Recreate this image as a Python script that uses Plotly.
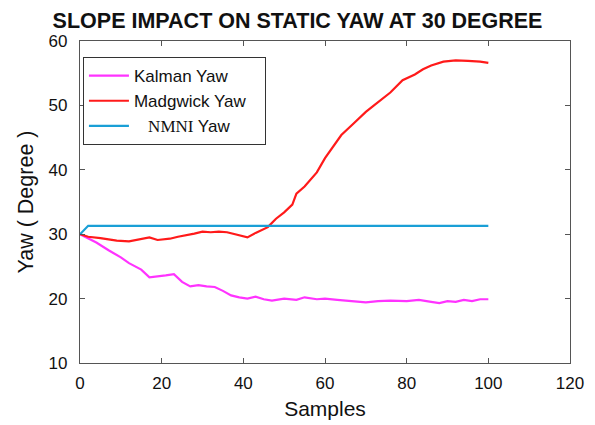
import plotly.graph_objects as go

kalman_x = [0, 2, 4, 7, 10, 12, 15, 17, 19, 21, 23, 25, 27, 29, 31, 33, 35, 37, 39, 41, 43, 45, 47, 50, 53, 55, 58, 60, 63, 66, 70, 73, 76, 80, 83, 86, 88, 90, 92, 94, 96, 98, 100]
kalman_y = [30.0, 29.3, 28.7, 27.5, 26.4, 25.5, 24.5, 23.3, 23.4, 23.6, 23.8, 22.6, 21.9, 22.1, 21.9, 21.8, 21.2, 20.5, 20.2, 20.0, 20.3, 19.9, 19.7, 20.0, 19.8, 20.2, 19.9, 20.0, 19.8, 19.6, 19.4, 19.6, 19.7, 19.6, 19.8, 19.5, 19.3, 19.6, 19.5, 19.8, 19.6, 19.9, 19.9]

madgwick_x = [0, 2, 5, 9, 12, 15, 17, 19, 22, 24, 26, 28, 30, 32, 34, 36, 38, 40, 41, 43, 45, 46, 48, 50, 52, 53, 55, 58, 60, 62, 64, 67, 70, 72, 74, 76, 79, 82, 84, 86, 89, 92, 95, 98, 100]
madgwick_y = [30.0, 29.6, 29.4, 29.0, 28.9, 29.3, 29.5, 29.1, 29.3, 29.6, 29.8, 30.1, 30.4, 30.3, 30.4, 30.3, 30.0, 29.6, 29.5, 30.2, 30.8, 31.1, 32.4, 33.4, 34.6, 36.3, 37.4, 39.6, 41.8, 43.6, 45.4, 47.2, 49.0, 50.0, 51.0, 52.0, 53.9, 54.8, 55.6, 56.2, 56.8, 57.0, 56.9, 56.8, 56.6]

nmni_x = [0, 2, 100]
nmni_y = [30.0, 31.3, 31.3]

fig = go.Figure()
fig.add_trace(go.Scatter(x=kalman_x, y=kalman_y, mode="lines", name="Kalman Yaw",
                         line=dict(color="#ff33ff", width=2.2)))
fig.add_trace(go.Scatter(x=madgwick_x, y=madgwick_y, mode="lines", name="Madgwick Yaw&nbsp;&nbsp;&nbsp;",
                         line=dict(color="#ff1a1a", width=2.2)))
fig.add_trace(go.Scatter(x=nmni_x, y=nmni_y, mode="lines",
                         name='&nbsp;&nbsp;&nbsp;<span style="font-family:Liberation Serif">NMNI</span> Yaw',
                         line=dict(color="#1a9fd6", width=2.2)))

axis_common = dict(showgrid=False, zeroline=False, showline=True, mirror="ticks",
                   linecolor="#555555", linewidth=1.2, ticks="inside", ticklen=5,
                   tickcolor="#555555", tickfont=dict(size=17, color="#111111"),
                   automargin=False)

fig.update_layout(
    width=595, height=425,
    margin=dict(l=80, r=25, t=41, b=62),
    paper_bgcolor="white", plot_bgcolor="white",
    font=dict(family="Liberation Sans, Arial, sans-serif", color="#111111"),
    title=dict(text="<b>SLOPE IMPACT ON STATIC YAW AT 30 DEGREE</b>", x=0.5, xanchor="center",
               y=0.953, yanchor="middle", font=dict(size=21.5, color="#111111"),
               automargin=False),
    xaxis=dict(range=[0, 120], tickvals=[0, 20, 40, 60, 80, 100, 120], ticklabelstandoff=4,
               title=dict(text="Samples", font=dict(size=21), standoff=9), **axis_common),
    yaxis=dict(range=[10, 60], tickvals=[10, 20, 30, 40, 50, 60], ticklabelstandoff=8,
               title=dict(text="Yaw ( Degree )", font=dict(size=21.5), standoff=9), **axis_common),
    legend=dict(x=0.006, y=0.95, xanchor="left", yanchor="top",
                bgcolor="white", bordercolor="#333333", borderwidth=1,
                font=dict(size=17, color="#111111"), itemwidth=40,
                tracegroupgap=0),
    showlegend=True,
)

fig.write_html("out.html")
